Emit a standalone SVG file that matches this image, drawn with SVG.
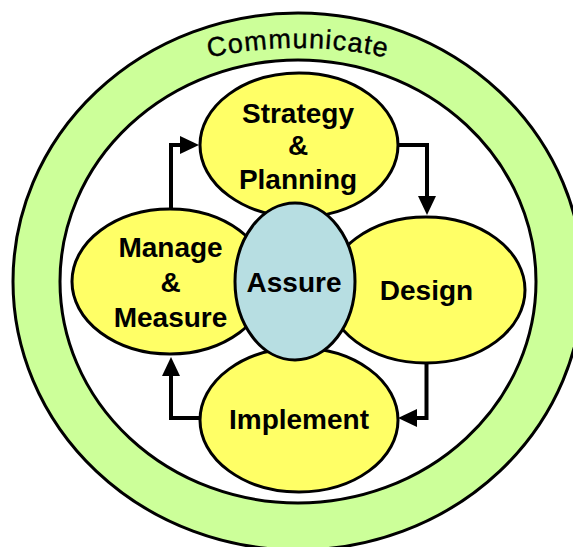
<svg xmlns="http://www.w3.org/2000/svg" width="573" height="547" viewBox="0 0 573 547">
  <style>
    .ring { stroke: #000; stroke-width: 3; }
    .node { fill: #FFFF66; stroke: #000; stroke-width: 3; }
    .assure { fill: #B7DEE2; stroke: #000; stroke-width: 3; }
    .lbl { font-family: "Liberation Sans", Arial, sans-serif; font-weight: bold; font-size: 28px; fill: #000; text-anchor: middle; }
    .comm { font-family: "Liberation Sans", Arial, sans-serif; font-size: 27px; fill: #000; letter-spacing: 1.2px; stroke: #000; stroke-width: 0.4px; }
    .conn { fill: none; stroke: #000; stroke-width: 4; stroke-linejoin: miter; }
  </style>
  <defs>
    <marker id="arrow" markerUnits="userSpaceOnUse" markerWidth="20" markerHeight="18" refX="0" refY="9" orient="auto" overflow="visible">
      <path d="M0,0 L19,9 L0,18 Z" fill="#000"/>
    </marker>
    <path id="commArc" d="M98,98.7 A420,420 0 0 1 498,98.7"/>
  </defs>
  <rect width="573" height="547" fill="#fff"/>

  <g id="communicate">
    <ellipse class="ring" cx="298" cy="281.5" rx="285" ry="268.5" fill="#CCFF99"/>
    <ellipse class="ring" cx="298" cy="281.5" rx="238" ry="221.5" fill="#fff"/>
    <text class="comm"><textPath href="#commArc" startOffset="50%" text-anchor="middle">Communicate</textPath></text>
  </g>

  <g id="connectors">
    <path class="conn" d="M171,209 L171,145 L180,145" marker-end="url(#arrow)"/>
    <path class="conn" d="M398,145 L427,145 L427,196" marker-end="url(#arrow)"/>
    <path class="conn" d="M426.5,363 L426.5,418 L417,418" marker-end="url(#arrow)"/>
    <path class="conn" d="M200,418 L171,418 L171,376" marker-end="url(#arrow)"/>
  </g>

  <g id="strategy">
    <ellipse class="node" cx="299" cy="145" rx="99" ry="72"/>
    <text class="lbl" x="298" y="122.5">Strategy</text>
    <text class="lbl" x="298" y="155">&amp;</text>
    <text class="lbl" x="298" y="188.5">Planning</text>
  </g>

  <g id="manage">
    <ellipse class="node" cx="170" cy="281.5" rx="98" ry="72.5"/>
    <text class="lbl" x="170.5" y="256.5">Manage</text>
    <text class="lbl" x="170.5" y="291.5">&amp;</text>
    <text class="lbl" x="170.5" y="326.5">Measure</text>
  </g>

  <g id="design">
    <ellipse class="node" cx="426" cy="290" rx="99" ry="73"/>
    <text class="lbl" x="426.5" y="300">Design</text>
  </g>

  <g id="implement">
    <ellipse class="node" cx="299" cy="420" rx="99" ry="72"/>
    <text class="lbl" x="299" y="428.5">Implement</text>
  </g>

  <g id="assure">
    <ellipse class="assure" cx="295" cy="281.5" rx="60" ry="78.5"/>
    <text class="lbl" x="294" y="291.5">Assure</text>
  </g>
</svg>
